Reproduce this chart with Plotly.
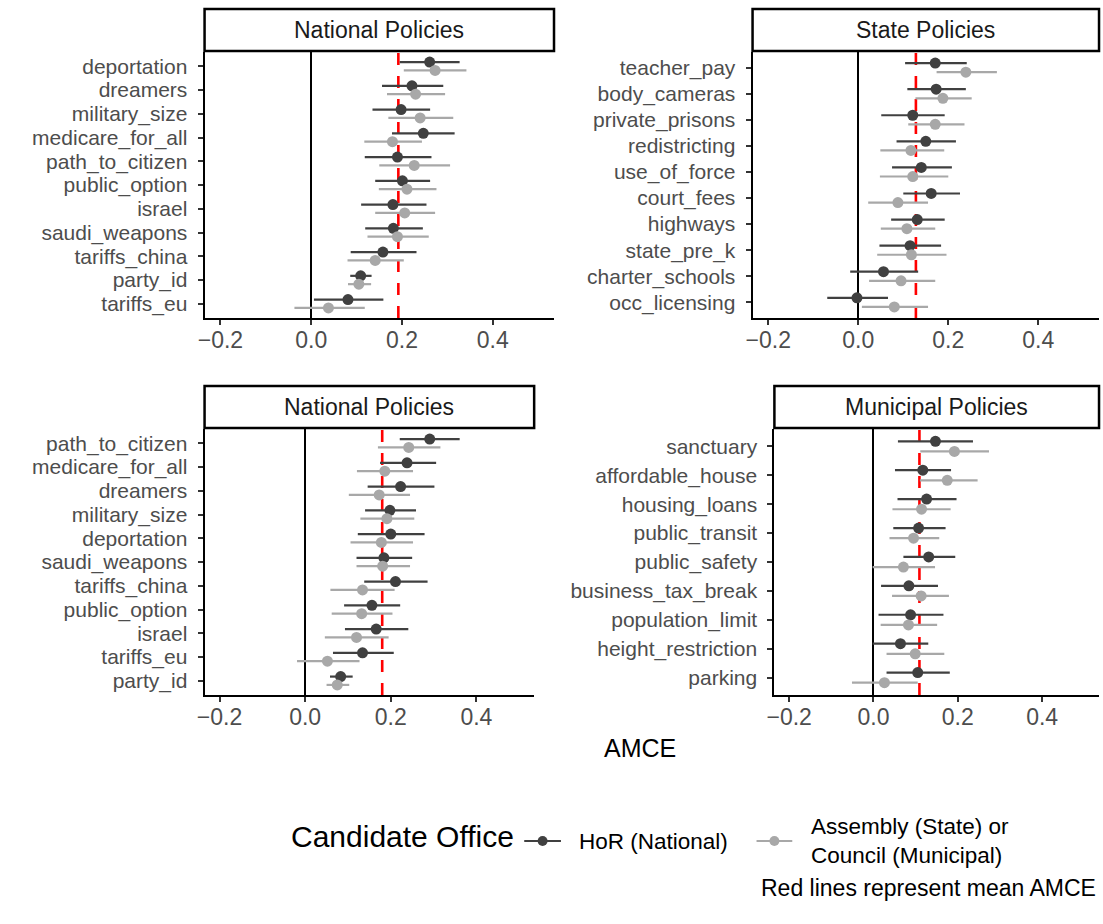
import plotly.graph_objects as go

W, H = 1103, 924

# ---------------- data ----------------
# Panel A: national policies (first design)
nat_a_labels = ["deportation", "dreamers", "military_size", "medicare_for_all",
                "path_to_citizen", "public_option", "israel", "saudi_weapons",
                "tariffs_china", "party_id", "tariffs_eu"]
nat_a_hor_est = [0.261, 0.222, 0.198, 0.247, 0.190, 0.201, 0.180, 0.181, 0.158, 0.109, 0.081]
nat_a_hor_lo = [0.195, 0.156, 0.135, 0.178, 0.118, 0.141, 0.110, 0.119, 0.087, 0.086, 0.006]
nat_a_hor_hi = [0.327, 0.291, 0.262, 0.316, 0.265, 0.262, 0.254, 0.246, 0.232, 0.133, 0.159]
nat_a_asm_est = [0.273, 0.230, 0.240, 0.179, 0.227, 0.211, 0.206, 0.190, 0.141, 0.105, 0.038]
nat_a_asm_lo = [0.204, 0.167, 0.170, 0.117, 0.150, 0.149, 0.141, 0.124, 0.080, 0.081, -0.037]
nat_a_asm_hi = [0.342, 0.295, 0.313, 0.244, 0.306, 0.276, 0.273, 0.259, 0.204, 0.132, 0.118]
nat_a_mean = 0.192

# Panel B: state policies
state_labels = ["teacher_pay", "body_cameras", "private_prisons", "redistricting",
                 "use_of_force", "court_fees", "highways", "state_pre_k",
                 "charter_schools", "occ_licensing"]
state_hor_est = [0.171, 0.173, 0.121, 0.150, 0.140, 0.162, 0.131, 0.115, 0.056, -0.003]
state_hor_lo = [0.104, 0.109, 0.051, 0.085, 0.075, 0.100, 0.073, 0.047, -0.018, -0.069]
state_hor_hi = [0.241, 0.239, 0.192, 0.217, 0.208, 0.226, 0.192, 0.184, 0.133, 0.066]
state_asm_est = [0.239, 0.188, 0.171, 0.117, 0.121, 0.088, 0.108, 0.118, 0.095, 0.080]
state_asm_lo = [0.174, 0.127, 0.111, 0.049, 0.048, 0.022, 0.050, 0.042, 0.024, 0.008]
state_asm_hi = [0.308, 0.252, 0.236, 0.191, 0.200, 0.155, 0.171, 0.196, 0.171, 0.155]
state_mean = 0.128

# Panel C: national policies (second design)
nat_c_labels = ["path_to_citizen", "medicare_for_all", "dreamers", "military_size",
                "deportation", "saudi_weapons", "tariffs_china", "public_option",
                "israel", "tariffs_eu", "party_id"]
nat_c_hor_est = [0.291, 0.238, 0.223, 0.198, 0.200, 0.184, 0.211, 0.156, 0.166, 0.134, 0.083]
nat_c_hor_lo = [0.221, 0.175, 0.146, 0.140, 0.123, 0.120, 0.138, 0.091, 0.093, 0.065, 0.058]
nat_c_hor_hi = [0.361, 0.306, 0.302, 0.259, 0.279, 0.250, 0.286, 0.222, 0.241, 0.207, 0.111]
nat_c_asm_est = [0.242, 0.186, 0.173, 0.191, 0.178, 0.181, 0.134, 0.132, 0.120, 0.052, 0.075]
nat_c_asm_lo = [0.170, 0.121, 0.102, 0.129, 0.106, 0.120, 0.059, 0.062, 0.046, -0.019, 0.050]
nat_c_asm_hi = [0.316, 0.252, 0.245, 0.255, 0.252, 0.245, 0.209, 0.204, 0.195, 0.127, 0.103]
nat_c_mean = 0.180

# Panel D: municipal policies
muni_labels = ["sanctuary", "affordable_house", "housing_loans", "public_transit",
               "public_safety", "business_tax_break", "population_limit",
               "height_restriction", "parking"]
muni_hor_est = [0.147, 0.117, 0.126, 0.107, 0.131, 0.084, 0.088, 0.064, 0.105]
muni_hor_lo = [0.058, 0.051, 0.057, 0.047, 0.071, 0.018, 0.012, -0.002, 0.031]
muni_hor_hi = [0.236, 0.184, 0.197, 0.171, 0.194, 0.153, 0.166, 0.130, 0.181]
muni_asm_est = [0.192, 0.175, 0.114, 0.095, 0.071, 0.113, 0.083, 0.099, 0.026]
muni_asm_lo = [0.111, 0.110, 0.045, 0.038, -0.002, 0.044, 0.017, 0.031, -0.051]
muni_asm_hi = [0.274, 0.247, 0.183, 0.156, 0.146, 0.179, 0.151, 0.168, 0.105]
muni_mean = 0.109

x_ticks = [-0.2, 0.0, 0.2, 0.4]
x_tick_text = ["\u22120.2", "0.0", "0.2", "0.4"]
x_range = [-0.235, 0.535]

strip_titles = ["National Policies", "State Policies", "National Policies", "Municipal Policies"]
series_names = ["HoR (National)", "Assembly (State) or<br>Council (Municipal)"]

# ---------------- styling ----------------
FONT = "Liberation Sans, Arial, Helvetica, sans-serif"
DARK = "#404040"
LIGHT = "#A8A8A8"
TICK_GREY = "#4D4D4D"
DODGE = 0.175

# pixel boxes of each panel: (left, right, top, bottom), strip (top, bottom)
panels = [
    dict(box=(198, 550, 52, 318), strip=(9, 51)),
    dict(box=(750, 1099, 52, 318), strip=(9, 51)),
    dict(box=(198, 530, 429, 695), strip=(386, 428)),
    dict(box=(772, 1099, 429, 695), strip=(386, 428)),
]

panel_data = [
    (nat_a_labels, nat_a_hor_est, nat_a_hor_lo, nat_a_hor_hi,
     nat_a_asm_est, nat_a_asm_lo, nat_a_asm_hi, nat_a_mean),
    (state_labels, state_hor_est, state_hor_lo, state_hor_hi,
     state_asm_est, state_asm_lo, state_asm_hi, state_mean),
    (nat_c_labels, nat_c_hor_est, nat_c_hor_lo, nat_c_hor_hi,
     nat_c_asm_est, nat_c_asm_lo, nat_c_asm_hi, nat_c_mean),
    (muni_labels, muni_hor_est, muni_hor_lo, muni_hor_hi,
     muni_asm_est, muni_asm_lo, muni_asm_hi, muni_mean),
]


def px(x):
    return x / W


def py(y):
    return 1 - y / H


fig = go.Figure()
shapes = []
annotations = []

for k, (pan, dat) in enumerate(zip(panels, panel_data), start=1):
    labels, h_est, h_lo, h_hi, a_est, a_lo, a_hi, mean_val = dat
    n = len(labels)
    pos = [n - i for i in range(n)]
    xa = "x" if k == 1 else f"x{k}"
    ya = "y" if k == 1 else f"y{k}"

    for est, lo, hi, color, off in (
        (h_est, h_lo, h_hi, DARK, DODGE),
        (a_est, a_lo, a_hi, LIGHT, -DODGE),
    ):
        fig.add_trace(go.Scatter(
            x=est,
            y=[p + off for p in pos],
            mode="markers",
            marker=dict(color=color, size=11, line=dict(width=0)),
            error_x=dict(
                type="data", symmetric=False,
                array=[h - e for h, e in zip(hi, est)],
                arrayminus=[e - l for e, l in zip(est, lo)],
                color=color, thickness=2.2, width=0,
            ),
            xaxis=xa, yaxis=ya, showlegend=False, hoverinfo="skip",
        ))

    left, right, top, bottom = pan["box"]
    axis_common = dict(
        showgrid=False, showline=True, linecolor="black", linewidth=2,
        ticks="outside", ticklen=5, tickwidth=2, tickcolor="#333333",
    )
    layout_x = dict(
        domain=[px(left), px(right)], range=x_range,
        tickvals=x_ticks, ticktext=x_tick_text,
        tickfont=dict(family=FONT, size=23, color=TICK_GREY),
        zeroline=True, zerolinecolor="black", zerolinewidth=2,
        ticklabelstandoff=-5,
        anchor=ya, **axis_common,
    )
    layout_y = dict(
        domain=[py(bottom), py(top)], range=[0.4, n + 0.6],
        tickvals=pos, ticktext=labels, zeroline=False,
        tickfont=dict(family=FONT, size=21, color=TICK_GREY),
        ticklabelstandoff=6,
        anchor=xa, **axis_common,
    )
    fig.layout["xaxis" if k == 1 else f"xaxis{k}"] = layout_x
    fig.layout["yaxis" if k == 1 else f"yaxis{k}"] = layout_y

    # mean AMCE reference line
    shapes.append(dict(
        type="line", xref=xa, yref=f"{ya} domain", x0=mean_val, x1=mean_val,
        y0=0, y1=1, line=dict(color="#FF0000", width=2.6, dash="12px,11px"),
        layer="below",
    ))

    # facet strip
    s_top, s_bot = pan["strip"]
    shapes.append(dict(
        type="rect", xref="paper", yref="paper",
        x0=px(left), x1=px(right), y0=py(s_bot), y1=py(s_top),
        line=dict(color="black", width=2.5), fillcolor="white", layer="above",
    ))
    annotations.append(dict(
        x=px((left + right) / 2), y=py((s_top + s_bot) / 2),
        xref="paper", yref="paper", text=strip_titles[k - 1], showarrow=False,
        xanchor="center", yanchor="middle",
        font=dict(family=FONT, size=23, color="#1A1A1A"),
    ))

# shared x-axis title
annotations.append(dict(
    x=px(637), y=py(748), xref="paper", yref="paper", text="AMCE",
    showarrow=False, xanchor="center", yanchor="middle",
    font=dict(family=FONT, size=25, color="black"),
))

# legend
annotations.append(dict(
    x=px(283), y=py(836), xref="paper", yref="paper", text="Candidate Office",
    showarrow=False, xanchor="left", yanchor="middle",
    font=dict(family=FONT, size=30, color="black"),
))
legend_keys = [(520, 557, DARK, 573, series_names[0]),
               (754, 790, LIGHT, 807, series_names[1])]
for x0, x1, col, tx, name in legend_keys:
    yc = 841
    shapes.append(dict(type="line", xref="paper", yref="paper",
                       x0=px(x0), x1=px(x1), y0=py(yc), y1=py(yc),
                       line=dict(color=col, width=2.2)))
    xc = (x0 + x1) / 2
    shapes.append(dict(type="circle", xref="paper", yref="paper",
                       x0=px(xc - 5), x1=px(xc + 5), y0=py(yc + 5), y1=py(yc - 5),
                       fillcolor=col, line=dict(width=0)))
    annotations.append(dict(
        x=px(tx), y=py(yc), xref="paper", yref="paper", text=name,
        showarrow=False, xanchor="left", yanchor="middle", align="left",
        font=dict(family=FONT, size=22.5, color="black"),
    ))

# caption
annotations.append(dict(
    x=px(1098), y=py(888), xref="paper", yref="paper",
    text="Red lines represent mean AMCE", showarrow=False,
    xanchor="right", yanchor="middle",
    font=dict(family=FONT, size=23, color="black"),
))

fig.update_layout(
    width=W, height=H, margin=dict(l=0, r=0, t=0, b=0),
    paper_bgcolor="white", plot_bgcolor="white",
    shapes=shapes, annotations=annotations, showlegend=False,
    font=dict(family=FONT),
)

fig.write_html("out.html", include_plotlyjs=True, config={"displayModeBar": False})
